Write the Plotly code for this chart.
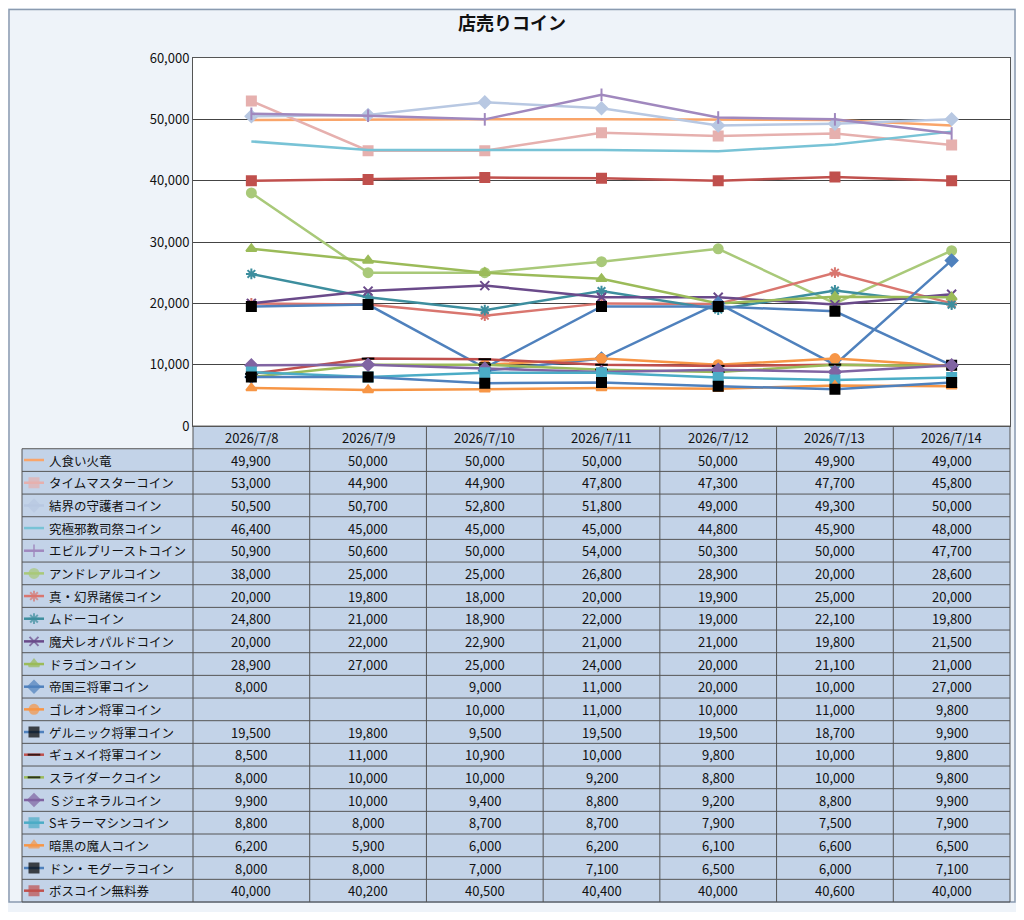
import plotly.graph_objects as go

dates = ['2026/7/8', '2026/7/9', '2026/7/10', '2026/7/11', '2026/7/12', '2026/7/13', '2026/7/14']

names = ['人食い火竜', 'タイムマスターコイン', '結界の守護者コイン', '究極邪教司祭コイン', 'エビルプリーストコイン',
         'アンドレアルコイン', '真・幻界諸侯コイン', 'ムドーコイン', '魔犬レオパルドコイン', 'ドラゴンコイン',
         '帝国三将軍コイン', 'ゴレオン将軍コイン', 'ゲルニック将軍コイン', 'ギュメイ将軍コイン', 'スライダークコイン',
         'Ｓジェネラルコイン', 'Sキラーマシンコイン', '暗黒の魔人コイン', 'ドン・モグーラコイン', 'ボスコイン無料券']

hitokui = [49900, 50000, 50000, 50000, 50000, 49900, 49000]
timemaster = [53000, 44900, 44900, 47800, 47300, 47700, 45800]
kekkai = [50500, 50700, 52800, 51800, 49000, 49300, 50000]
kyukyoku = [46400, 45000, 45000, 45000, 44800, 45900, 48000]
evilpriest = [50900, 50600, 50000, 54000, 50300, 50000, 47700]
andreal = [38000, 25000, 25000, 26800, 28900, 20000, 28600]
genkai = [20000, 19800, 18000, 20000, 19900, 25000, 20000]
mudo = [24800, 21000, 18900, 22000, 19000, 22100, 19800]
makken = [20000, 22000, 22900, 21000, 21000, 19800, 21500]
dragon = [28900, 27000, 25000, 24000, 20000, 21100, 21000]
teikoku = [8000, None, 9000, 11000, 20000, 10000, 27000]
goreon = [None, None, 10000, 11000, 10000, 11000, 9800]
gernik = [19500, 19800, 9500, 19500, 19500, 18700, 9900]
gyumei = [8500, 11000, 10900, 10000, 9800, 10000, 9800]
slidark = [8000, 10000, 10000, 9200, 8800, 10000, 9800]
sgeneral = [9900, 10000, 9400, 8800, 9200, 8800, 9900]
skiller = [8800, 8000, 8700, 8700, 7900, 7500, 7900]
ankoku = [6200, 5900, 6000, 6200, 6100, 6600, 6500]
donmogura = [8000, 8000, 7000, 7100, 6500, 6000, 7100]
boss_free = [40000, 40200, 40500, 40400, 40000, 40600, 40000]

series = [hitokui, timemaster, kekkai, kyukyoku, evilpriest, andreal, genkai, mudo, makken, dragon,
          teikoku, goreon, gernik, gyumei, slidark, sgeneral, skiller, ankoku, donmogura, boss_free]

# line colour, marker symbol, marker colour
styles = [
    ('#F9A56A', None, None),
    ('#E6B0AE', 'square', '#E6B0AE'),
    ('#B8C8E2', 'diamond', '#B8C8E2'),
    ('#78C3D6', None, None),
    ('#A088BE', 'line-ns', '#A088BE'),
    ('#A9C979', 'circle', '#A9C979'),
    ('#D9766F', 'asterisk', '#D9766F'),
    ('#3D8E9E', 'asterisk', '#3D8E9E'),
    ('#6A4A8A', 'x-thin', '#6A4A8A'),
    ('#9BBB59', 'triangle-up', '#9BBB59'),
    ('#4F81BD', 'diamond', '#4F81BD'),
    ('#F79646', 'circle', '#F79646'),
    ('#4F81BD', 'square', '#000000'),
    ('#C0504D', 'line-ew', '#000000'),
    ('#9BBB59', 'line-ew', '#000000'),
    ('#8064A2', 'diamond', '#8064A2'),
    ('#4BACC6', 'square', '#4BACC6'),
    ('#F79646', 'triangle-up', '#F79646'),
    ('#4F81BD', 'square', '#000000'),
    ('#C0504D', 'square', '#C0504D'),
]

font = 'Noto Sans CJK JP'
fig = go.Figure()
xs = list(range(len(dates)))

for name, vals, (lc, sym, mc) in zip(names, series, styles):
    fig.add_trace(go.Scatter(
        x=xs, y=vals, name=name, mode='lines+markers' if sym else 'lines',
        line=dict(color=lc, width=2.5),
        marker=dict(symbol=sym or 'circle', size=9, color=mc,
                    line=dict(color=mc, width=2)),
        connectgaps=False, showlegend=False
    ))

# page has an 8px body margin, so work in reference pixels shifted by 8
OFF = 8
W, H = 1024 - 2 * OFF, 920 - 2 * OFF
L, R, T, B = 22 - OFF, 1010 - OFF, 58 - OFF, 911 - OFF
ml, mr, mt, mb = L, W - R, T, H - B
pw, ph = R - L, B - T
plot_bottom = 430 - OFF
label_w = 171
col_w = (pw - label_w) / len(dates)
nrows = len(names) + 1
row_h = (B - plot_bottom) / nrows

def px(x):
    return (x - L) / pw

def py(y):
    return (B - y) / ph

shapes = []
ann = []
# table background
shapes.append(dict(type='rect', xref='paper', yref='paper', x0=px(L), x1=px(R),
                   y0=py(B), y1=py(plot_bottom + row_h), fillcolor='#C3D3E8',
                   line=dict(width=0), layer='below'))
shapes.append(dict(type='rect', xref='paper', yref='paper', x0=px(L + label_w), x1=px(R),
                   y0=py(plot_bottom + row_h), y1=py(plot_bottom), fillcolor='#C3D3E8',
                   line=dict(width=0), layer='below'))
# horizontal lines
for i in range(nrows + 1):
    y = plot_bottom + i * row_h
    x0 = L + label_w if i == 0 else L
    shapes.append(dict(type='line', xref='paper', yref='paper', x0=px(x0), x1=px(R),
                       y0=py(y), y1=py(y), line=dict(color='#555555', width=1)))
# vertical lines
shapes.append(dict(type='line', xref='paper', yref='paper', x0=px(L), x1=px(L),
                   y0=py(plot_bottom + row_h), y1=py(B), line=dict(color='#555555', width=1)))
for j in range(len(dates) + 1):
    x = L + label_w + j * col_w
    shapes.append(dict(type='line', xref='paper', yref='paper', x0=px(x), x1=px(x),
                       y0=py(plot_bottom), y1=py(B), line=dict(color='#555555', width=1)))
# outer rounded-ish frame
shapes.append(dict(type='rect', xref='paper', yref='paper', x0=px(1), x1=px(W - 1),
                   y0=py(H - 1), y1=py(1), line=dict(color='#8A9BB0', width=1.5), layer='below'))

cell_font = dict(size=13, color='#111111')
for j, d in enumerate(dates):
    ann.append(dict(x=px(L + label_w + (j + 0.5) * col_w), y=py(plot_bottom + row_h / 2),
                    text=d, showarrow=False, xref='paper', yref='paper',
                    xanchor='center', yanchor='middle', font=cell_font))

for i, (name, vals) in enumerate(zip(names, series)):
    yc = plot_bottom + (i + 1.5) * row_h
    ann.append(dict(x=px(L + 25), y=py(yc), text=name, showarrow=False, xanchor='left',
                    yanchor='middle', xref='paper', yref='paper',
                    font=dict(size=12.5, color='#111111')))
    for j, v in enumerate(vals):
        if v is None:
            continue
        ann.append(dict(x=px(L + label_w + (j + 0.5) * col_w), y=py(yc), text=f'{v:,}',
                        showarrow=False, xref='paper', yref='paper',
                        xanchor='center', yanchor='middle', font=cell_font))

# legend keys in the first table column
for i, (lc, sym, mc) in enumerate(styles):
    fig.add_trace(go.Scatter(
        x=[0, 1, 2], y=[i, i, i], xaxis='x2', yaxis='y2',
        mode='lines+markers' if sym else 'lines',
        line=dict(color=lc, width=2.5),
        marker=dict(symbol=sym or 'circle', size=[0, 9, 0], color=mc, line=dict(color=mc, width=2)),
        showlegend=False, hoverinfo='skip'
    ))

fig.update_layout(
    width=W, height=H,
    margin=dict(l=ml, r=mr, t=mt, b=mb),
    paper_bgcolor='#EEF3F9', plot_bgcolor='white',
    font=dict(family=font, size=13, color='#111111'),
    title=dict(text='<b>店売りコイン</b>', x=0.5, xanchor='center', y=1 - 16 / H,
               yanchor='middle', font=dict(size=18)),
    xaxis=dict(domain=[px(L + label_w), 1], range=[-0.5, 6.5], showticklabels=False,
               showgrid=False, zeroline=False, showline=True, mirror=True, linecolor='#555555'),
    yaxis=dict(domain=[py(plot_bottom), 1], range=[0, 60000], dtick=10000, tickformat=',',
               gridcolor='#444444', gridwidth=0.8, zeroline=False, showline=True, mirror=True,
               linecolor='#555555', tickfont=dict(size=13)),
    xaxis2=dict(domain=[px(L + 2), px(L + 22)], range=[0, 2], visible=False, fixedrange=True),
    yaxis2=dict(domain=[py(B), py(plot_bottom + row_h)], range=[len(names) - 0.5, -0.5],
                visible=False, fixedrange=True),
    shapes=shapes, annotations=ann,
)

fig.write_html('out.html')
